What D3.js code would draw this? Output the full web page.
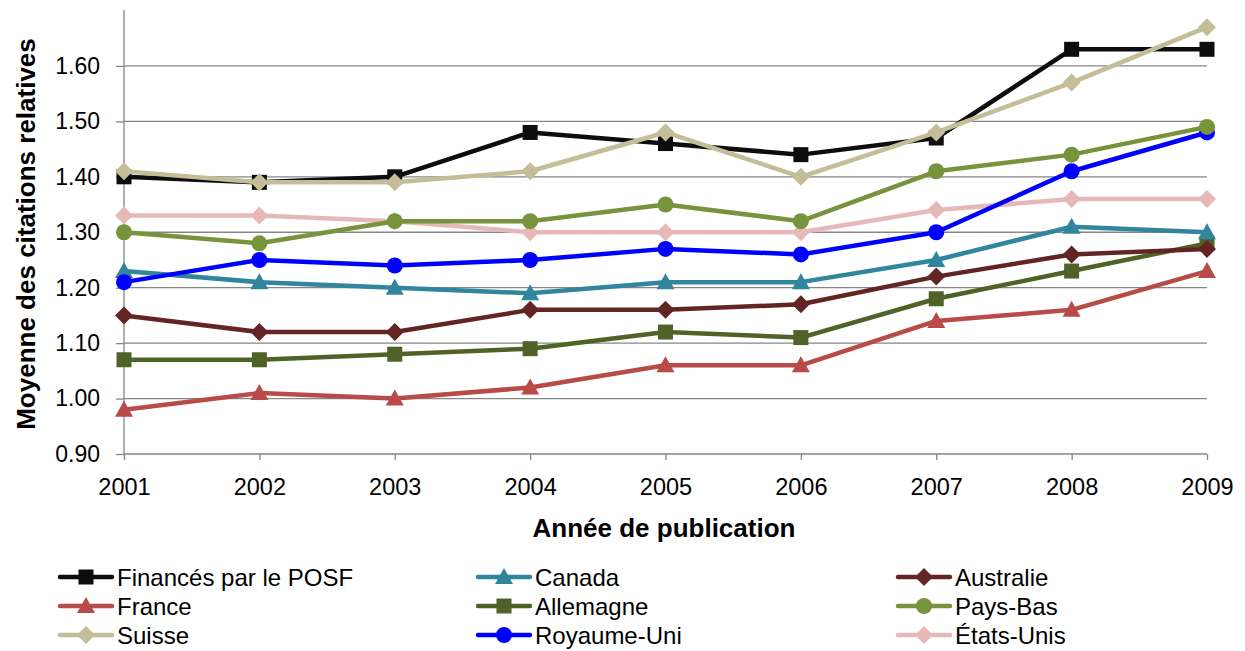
<!DOCTYPE html>
<html><head><meta charset="utf-8">
<script src="https://cdn.jsdelivr.net/npm/d3@7"></script>
<style>body{margin:0;background:#fff}svg{display:block;font-family:"Liberation Sans",Arial,sans-serif}</style>
</head><body><svg id="c" width="1245" height="651"></svg>
<script>
const years = [2001,2002,2003,2004,2005,2006,2007,2008,2009];
const yTicks = [0.90,1.00,1.10,1.20,1.30,1.40,1.50,1.60];
const names = ["Financés par le POSF","Canada","Australie","France","Allemagne","Pays-Bas","Suisse","Royaume-Uni","États-Unis"];
const posf      = [1.40,1.39,1.40,1.48,1.46,1.44,1.47,1.63,1.63];
const canada    = [1.23,1.21,1.20,1.19,1.21,1.21,1.25,1.31,1.30];
const australie = [1.15,1.12,1.12,1.16,1.16,1.17,1.22,1.26,1.27];
const france    = [0.98,1.01,1.00,1.02,1.06,1.06,1.14,1.16,1.23];
const allemagne = [1.07,1.07,1.08,1.09,1.12,1.11,1.18,1.23,1.28];
const paysBas   = [1.30,1.28,1.32,1.32,1.35,1.32,1.41,1.44,1.49];
const suisse    = [1.41,1.39,1.39,1.41,1.48,1.40,1.48,1.57,1.67];
const royaumeUni= [1.21,1.25,1.24,1.25,1.27,1.26,1.30,1.41,1.48];
const etatsUnis = [1.33,1.33,1.32,1.30,1.30,1.30,1.34,1.36,1.36];
const colors = ["#0d0d0d","#31859c","#632523","#b84a47","#4f6228","#77933c","#c4bd97","#0000ff","#e6b9b8"];
const shapes = ["square","triangle","diamond","triangle","square","circle","diamond","circle","diamond"];
const values = [posf,canada,australie,france,allemagne,paysBas,suisse,royaumeUni,etatsUnis];
const series = names.map((n,i)=>({name:n,values:values[i],color:colors[i],shape:shapes[i]}));

const FONT = "Liberation Sans, Arial, sans-serif";
const svg = d3.select("#c");
const x = d3.scalePoint().domain(years).range([124,1207]);
const y = d3.scaleLinear().domain([0.90,1.70]).range([454,10.5]);

// gridlines
svg.append("g").selectAll("line").data(yTicks.filter(t=>t>0.95)).join("line")
  .attr("x1",124).attr("x2",1207).attr("y1",d=>y(d)).attr("y2",d=>y(d))
  .attr("stroke","#868686").attr("stroke-width",1.3);

// y axis
const ya = svg.append("g").attr("transform","translate(124,0)")
  .call(d3.axisLeft(y).tickValues(yTicks).tickFormat(d3.format(".2f")).tickSize(8).tickSizeOuter(0));
ya.select(".domain").attr("stroke","#868686").attr("stroke-width",1.3).attr("d","M0,10V454");
ya.selectAll(".tick line").attr("stroke","#868686").attr("stroke-width",1.3);
ya.selectAll(".tick text").attr("font-size",23).attr("fill","#000").attr("x",-24).attr("font-family",FONT);

// x axis
const xa = svg.append("g").attr("transform","translate(0,454)")
  .call(d3.axisBottom(x).tickFormat(d3.format("d")).tickSize(6).tickSizeOuter(0));
xa.select(".domain").attr("stroke","#868686").attr("stroke-width",1.3).attr("d","M124,0H1207");
xa.selectAll(".tick line").attr("stroke","#868686").attr("stroke-width",1.3);
xa.selectAll(".tick text").attr("font-size",23.5).attr("fill","#000").attr("y",24).attr("font-family",FONT);

// titles
svg.append("text").attr("transform","translate(35,234) rotate(-90)").attr("text-anchor","middle")
  .attr("font-size",26).attr("font-weight","bold").text("Moyenne des citations relatives");
svg.append("text").attr("x",664).attr("y",537).attr("text-anchor","middle")
  .attr("font-size",26).attr("font-weight","bold").text("Année de publication");

function marker(g, shape, color, cx, cy){
  if(shape==="square") g.append("rect").attr("x",cx-7.5).attr("y",cy-7.5).attr("width",15).attr("height",15).attr("fill",color);
  else if(shape==="circle") g.append("circle").attr("cx",cx).attr("cy",cy).attr("r",8).attr("fill",color);
  else if(shape==="triangle") g.append("path").attr("d",`M${cx},${cy-9}L${cx+9},${cy+7}L${cx-9},${cy+7}Z`).attr("fill",color);
  else g.append("path").attr("d",`M${cx},${cy-9}L${cx+9},${cy}L${cx},${cy+9}L${cx-9},${cy}Z`).attr("fill",color);
}

const line = d3.line().x((d,i)=>x(years[i])).y(d=>y(d));
const order = [3,4,2,1,8,7,5,0,6];
order.forEach(k=>{
  const s = series[k];
  const g = svg.append("g");
  g.append("path").attr("d",line(s.values)).attr("fill","none").attr("stroke",s.color).attr("stroke-width",4.5).attr("stroke-linejoin","round");
  s.values.forEach((v,i)=>marker(g,s.shape,s.color,x(years[i]),y(v)));
});

// legend
const colX = [60,478,898];
const rowY = [577,606,635];
series.forEach((s,i)=>{
  const cx = colX[i%3], cy = rowY[Math.floor(i/3)];
  const g = svg.append("g");
  g.append("line").attr("x1",cx).attr("x2",cx+52).attr("y1",cy).attr("y2",cy).attr("stroke",s.color).attr("stroke-width",4.5).attr("stroke-linecap","round");
  marker(g,s.shape,s.color,cx+26,cy);
  g.append("text").attr("x",cx+57).attr("y",cy+8.5).attr("font-size",24).text(s.name);
});
</script></body></html>
